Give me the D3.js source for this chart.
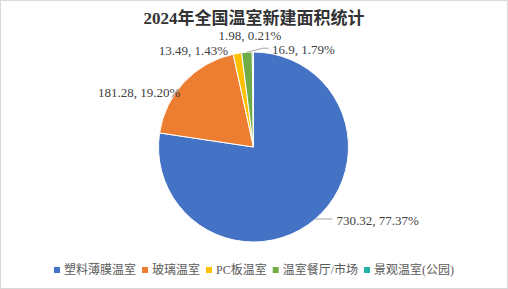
<!DOCTYPE html>
<html>
<head>
<meta charset="utf-8">
<script src="https://cdn.jsdelivr.net/npm/d3@7"></script>
<style>
  body { margin: 0; background: #fff; }
  svg { display: block; }
</style>
</head>
<body>
<div id="root"></div>
<script>
// data
const categories = ["塑料薄膜温室", "玻璃温室", "PC板温室", "温室餐厅/市场", "景观温室(公园)"]
const areas = [730.32, 181.28, 13.49, 16.9, 1.98]
const shares = ["77.37%", "19.20%", "1.43%", "1.79%", "0.21%"]
const colors = ["#4472C4", "#ED7D31", "#FFC000", "#70AD47", "#21B2A6"]
const title = "2024年全国温室新建面积统计"

const w = 508, h = 289
const cx = 253.5, cy = 147, r = 95

// label layout tweaks (offset from slice edge midpoint)
const labelOffsets = [
    {dx: 21, dy: 1, anchor: "start", leader: true},
    {dx: -45, dy: 10, anchor: "middle"},
    {dx: -44, dy: -3, anchor: "middle"},
    {dx: 25, dy: -3, anchor: "start", leader: true},
    {dx: -3, dy: -17, anchor: "middle"}
]

const svg = d3.select("#root").append("svg")
    .attr("width", w)
    .attr("height", h)

svg.append("rect")
    .attr("x", 0.5).attr("y", 0.5)
    .attr("width", w - 1).attr("height", h - 1)
    .attr("fill", "#fff")
    .attr("stroke", "#d9d9d9")

svg.append("text")
    .attr("x", w / 2)
    .attr("y", 24)
    .attr("text-anchor", "middle")
    .attr("font-family", "'Liberation Serif', 'Noto Sans CJK SC', serif")
    .attr("font-weight", "bold")
    .attr("font-size", 17)
    .attr("fill", "#333")
    .text(title)

const data = categories.map((c, i) => ({name: c, value: areas[i], share: shares[i], color: colors[i], i}))

const pie = d3.pie().sort(null).value(d => d.value)
const arcs = pie(data)
const arc = d3.arc().innerRadius(0).outerRadius(r)

const g = svg.append("g").attr("transform", `translate(${cx},${cy})`)

g.selectAll("path.slice")
    .data(arcs)
    .enter()
    .append("path")
    .attr("class", "slice")
    .attr("d", arc)
    .attr("fill", d => d.data.color)
    .attr("stroke", "#fff")
    .attr("stroke-width", 1)

// edge point of each slice
function edge(d) {
    const a = (d.startAngle + d.endAngle) / 2
    return [r * Math.sin(a), -r * Math.cos(a)]
}

arcs.forEach(d => {
    const o = labelOffsets[d.data.i]
    const [ex, ey] = edge(d)
    const lx = ex + o.dx, ly = ey + o.dy
    if (o.leader) {
        const pts = d.data.i === 0
            ? [[ex, ey], [lx - 4, ly - 1]]
            : [[ex, ey], [lx - 9, ly - 1], [lx - 3, ly - 1]]
        g.append("path")
            .attr("d", d3.line()(pts))
            .attr("fill", "none")
            .attr("stroke", "#a6a6a6")
            .attr("stroke-width", 1)
    }
    g.append("text")
        .attr("x", lx)
        .attr("y", ly)
        .attr("dy", "0.35em")
        .attr("text-anchor", o.anchor)
        .attr("font-family", "'Liberation Serif', serif")
        .attr("font-size", 13)
        .attr("fill", "#404040")
        .text(`${d.data.value}, ${d.data.share}`)
})

// legend
const legend = svg.append("g")
const items = legend.selectAll("g.item")
    .data(data)
    .enter()
    .append("g")
    .attr("class", "item")

items.append("rect")
    .attr("width", 6).attr("height", 6)
    .attr("y", -3)
    .attr("fill", d => d.color)

items.append("text")
    .attr("x", 10)
    .attr("dy", "0.35em")
    .attr("font-family", "'Liberation Serif', 'Noto Sans CJK SC', serif")
    .attr("font-size", 12)
    .attr("fill", "#595959")
    .text(d => d.name)

let xpos = 0
items.each(function () {
    const tw = d3.select(this).select("text").node().getComputedTextLength()
    d3.select(this).attr("transform", `translate(${xpos},0)`)
    xpos += 10 + tw + 6
})
const total = xpos - 6
legend.attr("transform", `translate(${(w - total) / 2},270)`)
</script>
</body>
</html>
